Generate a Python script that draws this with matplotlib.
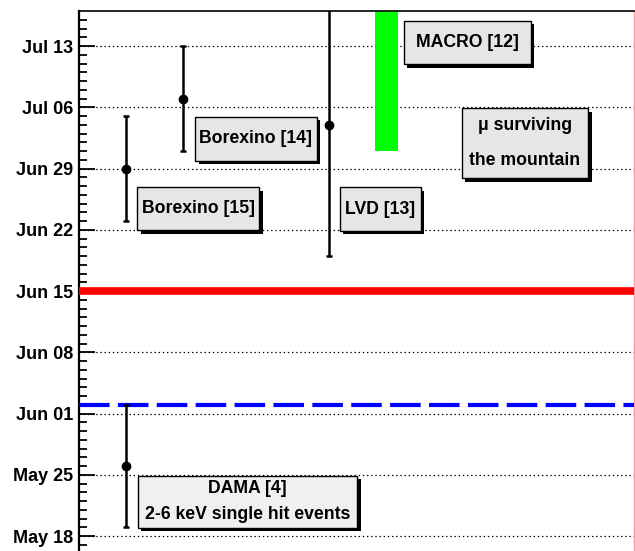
import datetime
import matplotlib
matplotlib.use("Agg")
import matplotlib.pyplot as plt
from matplotlib.patches import Rectangle
import matplotlib.patheffects as pe

plt.rcParams['font.family'] = ['Liberation Sans', 'DejaVu Sans']
plt.rcParams['lines.scale_dashes'] = False

# phase values as day of year (non-leap year)
names = ["Borexino [15]", "Borexino [14]", "LVD [13]", "DAMA [4]"]
xpos = [0.085, 0.188, 0.450, 0.085]
phase = [180, 188, 185, 146]
err = [6, 6, 15, 7]

macro_x = [0.533, 0.575]
macro_lo = 182
macro_hi = 210

dama_line = 153       # blue dashed
june_line = 166       # red (Jun 15)

tick_days = [138, 145, 152, 159, 166, 173, 180, 187, 194]

fig = plt.figure(figsize=(6.35, 5.51), dpi=100)
ax = fig.add_axes([79/635, 0, 555/635, 540/551])
ax.set_xlim(0, 1)
ax.set_ylim(136.3, 198)

# grid lines at major ticks
for d in tick_days:
    ax.axhline(d, color='black', lw=0.9, ls=(0, (1, 2)), zorder=1)

ax.axhline(june_line, color='#ff0000', lw=5.5, zorder=3)
ax.axhline(dama_line, color='#0000ff', lw=3, dashes=(22, 6), zorder=3)

ax.fill_between(macro_x, macro_lo, macro_hi, color='#00ff00', lw=0, zorder=2)

ax.errorbar(xpos, phase, yerr=err, fmt='o', color='black', ms=6,
            elinewidth=1.8, capsize=2, capthick=1.8, zorder=4)

def label_box(x0, x1, y0, y1, lines, face='#e6e6e6'):
    r = Rectangle((x0, y0), x1 - x0, y1 - y0, transform=ax.transAxes,
                  facecolor=face, edgecolor='black', lw=1, zorder=5)
    r.set_path_effects([pe.SimplePatchShadow(offset=(2.5, -2.5), shadow_rgbFace='black', alpha=1.0),
                        pe.Normal()])
    ax.add_patch(r)
    n = len(lines)
    h = y1 - y0
    for i, t in enumerate(lines):
        yy = y1 - h * (i + 0.5) / n
        ax.text((x0 + x1) / 2, yy, t, transform=ax.transAxes, ha='center', va='center',
                fontsize=12.7, fontweight='bold', zorder=6)

label_box(0.105, 0.325, 0.594, 0.674, [names[0]])
label_box(0.2095, 0.428, 0.723, 0.804, [names[1]])
label_box(0.585, 0.814, 0.901, 0.982, ["MACRO [12]"])
label_box(0.6895, 0.9177, 0.690, 0.820, ["\u03bc surviving", "the mountain"])
label_box(0.470, 0.616, 0.593, 0.6735, [names[2]])
label_box(0.1058, 0.5014, 0.0426, 0.1394, [names[3], "2-6 keV single hit events"], face='#f0f0f0')

def day_label(d):
    dt = datetime.date(2011, 1, 1) + datetime.timedelta(days=d - 1)
    return dt.strftime('%b %d')

ax.set_yticks(tick_days)
ax.set_yticklabels([day_label(d) for d in tick_days], fontsize=13, fontweight='bold')
ax.set_yticks(range(137, 198), minor=True)
ax.tick_params(axis='y', which='major', direction='in', length=11.5, width=1.3, pad=4)
ax.tick_params(axis='y', which='minor', direction='in', length=6, width=1.3)
ax.set_xticks([])

ax.spines['bottom'].set_visible(False)
ax.spines['left'].set_linewidth(1.6)
ax.spines['top'].set_linewidth(1.2)
ax.spines['right'].set_color('#ff9999')
ax.spines['right'].set_linewidth(1)

fig.savefig('out.png', dpi=100)
